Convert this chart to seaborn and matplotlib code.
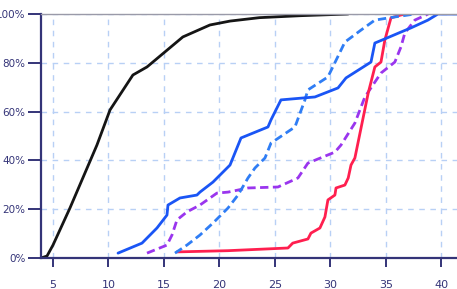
import numpy as np
import pandas as pd
import matplotlib
matplotlib.use("Agg")
import matplotlib.pyplot as plt
from matplotlib.ticker import PercentFormatter
import seaborn as sns

# series (x value, cumulative share)
black_x = [3.92, 4.46, 5.0, 6.53, 8.96, 10.14, 12.2, 13.47, 16.7, 19.14, 20.95, 23.6, 27.25, 31.6]
black_y = [0.0, 0.008, 0.053, 0.205, 0.463, 0.607, 0.75, 0.783, 0.906, 0.955, 0.971, 0.985, 0.993, 1.0]

blue_x = [10.86, 13.02, 14.37, 15.27, 15.36, 16.44, 17.97, 18.24, 19.41, 20.95, 21.94, 24.37, 24.64,
          25.54, 28.6, 30.68, 31.4, 33.65, 34.0, 34.9, 36.35, 37.25, 38.78, 39.68, 41.4]
blue_y = [0.02, 0.061, 0.123, 0.176, 0.217, 0.246, 0.258, 0.27, 0.311, 0.381, 0.492, 0.537, 0.566,
          0.648, 0.66, 0.697, 0.738, 0.803, 0.881, 0.898, 0.926, 0.943, 0.975, 1.0, 1.0]

bdash_x = [15.99, 17.07, 18.24, 19.41, 20.77, 21.67, 22.57, 23.2, 24.1, 24.64, 26.8, 27.7, 27.97,
           29.77, 30.95, 31.3, 32.75, 34.0, 35.8, 37.6]
bdash_y = [0.02, 0.053, 0.094, 0.143, 0.205, 0.258, 0.328, 0.369, 0.41, 0.471, 0.537, 0.648, 0.689,
           0.742, 0.852, 0.885, 0.934, 0.975, 0.988, 1.0]

purple_x = [13.47, 15.27, 15.72, 16.17, 17.07, 18.24, 19.77, 20.77, 22.57, 25.27, 27.07, 27.97, 30.4,
            30.95, 32.2, 33.1, 34.55, 35.8, 36.35, 36.7, 37.6, 38.8]
purple_y = [0.02, 0.053, 0.094, 0.156, 0.189, 0.217, 0.266, 0.27, 0.287, 0.291, 0.328, 0.389, 0.434,
            0.463, 0.553, 0.66, 0.758, 0.803, 0.865, 0.922, 0.975, 1.0]

red_x = [16.17, 20.77, 26.17, 26.6, 27.97, 28.24, 29.05, 29.5, 29.77, 30.4, 30.5, 31.3, 31.6, 31.85,
         32.2, 33.4, 34.0, 34.55, 34.9, 35.45, 36.35, 36.8]
red_y = [0.025, 0.03, 0.041, 0.061, 0.078, 0.102, 0.123, 0.168, 0.238, 0.258, 0.287, 0.299, 0.328,
         0.381, 0.41, 0.676, 0.783, 0.803, 0.893, 0.984, 0.996, 1.0]

x_ticks = [5, 10, 15, 20, 25, 30, 35, 40]
y_ticks = [0, 0.2, 0.4, 0.6, 0.8, 1.0]

series = [
    (black_x, black_y, "#151515", ""),
    (purple_x, purple_y, "#9a35ee", (3, 1.6)),
    (red_x, red_y, "#ff1f4f", ""),
    (bdash_x, bdash_y, "#2f7df5", (3, 1.6)),
    (blue_x, blue_y, "#1a55f5", ""),
]

sns.set_style("white")
navy = "#343478"

fig = plt.figure(figsize=(4.57, 2.89), dpi=100)
ax = fig.add_axes([41 / 457, 31 / 289, 1 - 41 / 457, 244 / 289])

for xs, ys, col, dash in series:
    df = pd.DataFrame({"x": xs, "y": ys})
    sns.lineplot(data=df, x="x", y="y", ax=ax, color=col, linewidth=2.0,
                 sort=False, estimator=None)
    if dash:
        ax.lines[-1].set_dashes(dash)

ax.set_xlim(3.92, 41.4)
ax.set_ylim(0, 1.0)
ax.set_xticks(x_ticks)
ax.set_yticks(y_ticks)
ax.yaxis.set_major_formatter(PercentFormatter(1.0, decimals=0))
ax.set_xlabel("")
ax.set_ylabel("")

ax.grid(True, color="#b8d0f5", linestyle=(0, (4, 4)), linewidth=1.0)
ax.set_axisbelow(True)

for side in ["left", "bottom"]:
    ax.spines[side].set_color(navy)
    ax.spines[side].set_linewidth(1.6)
ax.spines["top"].set_color("#9a9aa8")
ax.spines["top"].set_linewidth(1.0)
ax.spines["right"].set_visible(False)

ax.tick_params(axis="y", direction="out", length=9.5, width=1.4, color=navy,
               labelcolor=navy, labelsize=7.5, pad=1.5)
ax.tick_params(axis="x", direction="out", length=6.5, width=1.4, color=navy,
               labelcolor=navy, labelsize=8, pad=9)
ax.tick_params(left=True, bottom=True)

fig.savefig("out.png", dpi=100)
plt.close(fig)
